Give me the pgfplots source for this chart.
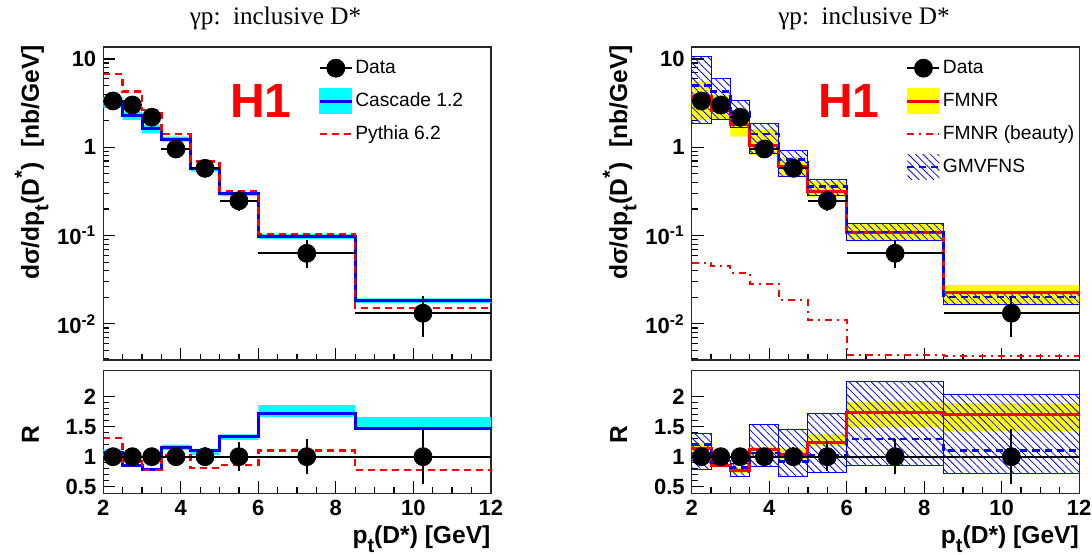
\documentclass[border=0pt]{standalone}
\usepackage{fontspec}
\setmainfont{Liberation Sans}
\newfontfamily\timesfont{Liberation Serif}
\usepackage{pgfplots}
\pgfplotsset{compat=1.18}
\usepackage{pgfplotstable}
\usetikzlibrary{patterns.meta}
\definecolor{hcyan}{RGB}{0,255,255}
\definecolor{hyellow}{RGB}{255,255,0}
\definecolor{hred}{RGB}{255,0,0}
\definecolor{hblue}{RGB}{0,0,255}

\pgfplotstableread{
x y ex ep em
2.25 3.35 0.25 0.25 0.25
2.75 3.01 0.25 0.2 0.2
3.25 2.19 0.25 0.15 0.15
3.875 0.957 0.375 0.07 0.07
4.625 0.578 0.375 0.05 0.05
5.5 0.248 0.5 0.03 0.03
7.25 0.063 1.25 0.0155 0.0143
10.25 0.0132 1.75 0.0052 0.005
}\datatop
\pgfplotstableread{
x y ex ey
2.25 1 0.25 0.05
2.75 1 0.25 0.05
3.25 1 0.25 0.05
3.875 1 0.375 0.06
4.625 1 0.375 0.07
5.5 1 0.5 0.155
7.25 1 1.25 0.21
10.25 1 1.75 0.38
}\dataratio

\newcommand{\labfont}{\fontsize{12.3}{12.3}\selectfont\bfseries}
\newcommand{\subt}{\raisebox{-0.38em}{\fontsize{10}{10}\selectfont\bfseries t}}
\newcommand{\supst}{\raisebox{0.42em}{\fontsize{10}{10}\selectfont\bfseries *}}

\pgfplotsset{
  myHax/.style={scale only axis, width=193.75pt, xmin=2, xmax=12, clip=true,
    axis line style={line width=0.7pt, black!85},
    xtick={2,4,6,8,10,12}, minor x tick num=3,
    xtick pos=lower, ytick pos=left, tick align=inside,
    major tick length=6pt, minor tick length=3pt,
    tick style={black, line width=0.6pt},
    tick label style={font=\fontsize{11}{11}\selectfont\bfseries},
    legend cell align=left,
    /pgf/number format/assume math mode=true},
  myHatch/.style={draw=hblue, line width=0.5pt, pattern={Lines[angle=-45,distance=2.6pt,line width=0.4pt]}, pattern color=hblue, forget plot},
  myDataX/.style={only marks, mark=none, forget plot, error bars/x dir=both, error bars/x explicit, error bars/error mark=none, error bars/error bar style={black, line width=1pt}},
  myDataY/.style={only marks, mark=*, mark size=4.5pt, black, forget plot, error bars/y dir=both, error bars/y explicit, error bars/error bar style={black, line width=1pt}, error bars/error mark options={black, mark size=2.5pt, line width=1pt}},
}

\begin{document}
\begin{tikzpicture}
\useasboundingbox (0pt,0pt) rectangle (546pt,-277.5pt);

% ---------------- left top ----------------
\begin{axis}[ymode=log, myHax, height=156.5pt, ymin=0.0039, ymax=13.68,
    ytick={0.01,0.1,1,10},
    yticklabels={10\textsuperscript{-2},10\textsuperscript{-1},1,10},
    minor ytick={0.004,0.005,0.006,0.007,0.008,0.009,0.02,0.03,0.04,0.05,0.06,0.07,0.08,0.09,0.2,0.3,0.4,0.5,0.6,0.7,0.8,0.9,2,3,4,5,6,7,8,9},
    xticklabels={},
    at={(51.65pt,-180pt)}, anchor=south west,
    legend style={at={(0.555,0.985)}, anchor=north west, draw=none, fill=none, inner sep=0pt, outer sep=0pt, row sep=0pt,
    font=\fontsize{9.6}{9.6}\selectfont, nodes={inner sep=1pt},
    /tikz/every even column/.append style={column sep=3pt}}]
\addplot[fill=hcyan, draw=none, forget plot] coordinates {(2,3.7)(2.5,3.7)(2.5,2.53)(3,2.53)(3,1.79)(3.5,1.79)(3.5,1.32)(4.25,1.32)(4.25,0.6)(5,0.6)(5,0.314)(6,0.314)(6,0.104)(8.5,0.104)(8.5,0.0195)(12,0.0195)
 (12,0.0172)(8.5,0.0172)(8.5,0.092)(6,0.092)(6,0.281)(5,0.281)(5,0.53)(4.25,0.53)(4.25,1.16)(3.5,1.16)(3.5,1.44)(3,1.44)(3,2.04)(2.5,2.04)(2.5,2.8)(2,2.8)} -- cycle;
\addplot[const plot, hblue, line width=1.5pt, forget plot] coordinates {(2,3.28)(2.5,2.32)(3,1.64)(3.5,1.24)(4.25,0.57)(5,0.30)(6,0.097)(8.5,0.0182)(12,0.0182)};
\addplot[const plot, hred, line width=1.2pt, dash pattern=on 3.5pt off 2.5pt, forget plot] coordinates {(2,6.76)(2.5,4.27)(3,2.64)(3.5,1.41)(4.25,0.687)(5,0.32)(6,0.104)(8.5,0.0151)(12,0.0151)};
\addplot[myDataX] table[x=x, y=y, x error=ex] {\datatop};
\addplot[myDataY] table[x=x, y=y, y error plus=ep, y error minus=em] {\datatop};
\addlegendimage{legend image code/.code={\path[draw=none,fill=none] (0pt,-8.25pt) rectangle (16pt,8.25pt); \draw[black,line width=1pt] (0pt,0pt)--(16pt,0pt); \fill[black] (8pt,0pt) circle (4.5pt);}}
\addlegendentry{Data}
\addlegendimage{legend image code/.code={\path[draw=none,fill=none] (0pt,-8.25pt) rectangle (16pt,8.25pt); \fill[hcyan] (0pt,-6.25pt) rectangle (16pt,6.25pt); \draw[hblue,line width=1.5pt] (0pt,0pt)--(16pt,0pt);}}
\addlegendentry{Cascade 1.2}
\addlegendimage{legend image code/.code={\path[draw=none,fill=none] (0pt,-8.25pt) rectangle (16pt,8.25pt); \draw[hred,line width=1.2pt,dash pattern=on 3.5pt off 2.5pt] (0pt,0pt)--(16pt,0pt);}}
\addlegendentry{Pythia 6.2}
\end{axis}

% ---------------- left ratio ----------------
\begin{axis}[myHax, height=61.3pt, ymin=0.39, ymax=2.433,
    ytick={0.5,1,1.5,2}, minor y tick num=4,
    at={(51.65pt,-246.65pt)}, anchor=south west]
\addplot[fill=hcyan, draw=none, forget plot] coordinates {(2,1.12)(2.5,1.12)(2.5,0.87)(3,0.87)(3,0.81)(3.5,0.81)(3.5,1.2)(4.25,1.2)(4.25,1.13)(5,1.13)(5,1.37)(6,1.37)(6,1.86)(8.5,1.86)(8.5,1.66)(12,1.66)
 (12,1.45)(8.5,1.45)(8.5,1.66)(6,1.66)(6,1.28)(5,1.28)(5,1.03)(4.25,1.03)(4.25,1.11)(3.5,1.11)(3.5,0.77)(3,0.77)(3,0.83)(2.5,0.83)(2.5,1.0)(2,1.0)} -- cycle;
\addplot[const plot, hblue, line width=1.5pt, forget plot] coordinates {(2,1.07)(2.5,0.85)(3,0.79)(3.5,1.16)(4.25,1.11)(5,1.33)(6,1.72)(8.5,1.47)(12,1.47)};
\addplot[const plot, hred, line width=1.2pt, dash pattern=on 3.5pt off 2.5pt, forget plot] coordinates {(2,1.31)(2.5,0.92)(3,0.78)(3.5,1.02)(4.25,0.81)(5,0.86)(6,1.10)(8.5,0.78)(12,0.78)};
\addplot[myDataX] table[x=x, y=y, x error=ex] {\dataratio};
\addplot[myDataY] table[x=x, y=y, y error=ey] {\dataratio};
\end{axis}

% ---------------- right top ----------------
\begin{axis}[ymode=log, myHax, height=156.5pt, ymin=0.0039, ymax=13.68,
    ytick={0.01,0.1,1,10},
    yticklabels={10\textsuperscript{-2},10\textsuperscript{-1},1,10},
    minor ytick={0.004,0.005,0.006,0.007,0.008,0.009,0.02,0.03,0.04,0.05,0.06,0.07,0.08,0.09,0.2,0.3,0.4,0.5,0.6,0.7,0.8,0.9,2,3,4,5,6,7,8,9},
    xticklabels={},
    at={(345.85pt,-180pt)}, anchor=south west,
    legend style={at={(0.553,0.985)}, anchor=north west, draw=none, fill=none, inner sep=0pt, outer sep=0pt, row sep=0pt,
    font=\fontsize{9.6}{9.6}\selectfont, nodes={inner sep=1pt},
    /tikz/every even column/.append style={column sep=3pt}}]
\addplot[fill=hyellow, draw=none, forget plot] coordinates {(2,5.5)(2.5,5.5)(2.5,3.9)(3,3.9)(3,2.5)(3.5,2.5)(3.5,1.57)(4.25,1.57)(4.25,0.78)(5,0.78)(5,0.41)(6,0.41)(6,0.135)(8.5,0.135)(8.5,0.0277)(12,0.0277)
 (12,0.0164)(8.5,0.0164)(8.5,0.089)(6,0.089)(6,0.276)(5,0.276)(5,0.465)(4.25,0.465)(4.25,0.82)(3.5,0.82)(3.5,1.32)(3,1.32)(3,2.04)(2.5,2.04)(2.5,2.04)(2,2.04)} -- cycle;
\addplot[myHatch] coordinates {(2,1.87)(2.5,1.87)(2.5,10.8)(2,10.8)} -- cycle;
\addplot[myHatch] coordinates {(2.5,2.04)(3,2.04)(3,6.04)(2.5,6.04)} -- cycle;
\addplot[myHatch] coordinates {(3,1.68)(3.5,1.68)(3.5,3.43)(3,3.43)} -- cycle;
\addplot[myHatch] coordinates {(3.5,0.855)(4.25,0.855)(4.25,1.84)(3.5,1.84)} -- cycle;
\addplot[myHatch] coordinates {(4.25,0.465)(5,0.465)(5,0.93)(4.25,0.93)} -- cycle;
\addplot[myHatch] coordinates {(5,0.288)(6,0.288)(6,0.434)(5,0.434)} -- cycle;
\addplot[myHatch] coordinates {(6,0.087)(8.5,0.087)(8.5,0.137)(6,0.137)} -- cycle;
\addplot[myHatch] coordinates {(8.5,0.0164)(12,0.0164)(12,0.0219)(8.5,0.0219)} -- cycle;
\addplot[const plot, hred, line width=1.5pt, forget plot] coordinates {(2,3.74)(2.5,2.58)(3,1.79)(3.5,1.06)(4.25,0.6)(5,0.314)(6,0.108)(8.5,0.0226)(12,0.0226)};
\addplot[const plot, hblue, line width=1.2pt, dash pattern=on 3.5pt off 2.5pt, forget plot] coordinates {(2,5.0)(2.5,4.3)(3,2.53)(3.5,1.41)(4.25,0.73)(5,0.358)(6,0.11)(8.5,0.0203)(12,0.0203)};
\addplot[const plot, hred, line width=1pt, dash pattern=on 3.5pt off 2.5pt on 1pt off 2.5pt, forget plot] coordinates {(2,0.0487)(2.5,0.045)(3,0.038)(3.5,0.0282)(4.25,0.0186)(5,0.0112)(6,0.0045)(8.5,0.0043)(12,0.0043)};
\addplot[myDataX] table[x=x, y=y, x error=ex] {\datatop};
\addplot[myDataY] table[x=x, y=y, y error plus=ep, y error minus=em] {\datatop};
\addlegendimage{legend image code/.code={\path[draw=none,fill=none] (0pt,-8.25pt) rectangle (16pt,8.25pt); \draw[black,line width=1pt] (0pt,0pt)--(16pt,0pt); \fill[black] (8pt,0pt) circle (4.5pt);}}
\addlegendentry{Data}
\addlegendimage{legend image code/.code={\path[draw=none,fill=none] (0pt,-8.25pt) rectangle (16pt,8.25pt); \fill[hyellow] (0pt,-6.25pt) rectangle (16pt,6.25pt); \draw[hred,line width=1.5pt] (0pt,0pt)--(16pt,0pt);}}
\addlegendentry{FMNR}
\addlegendimage{legend image code/.code={\path[draw=none,fill=none] (0pt,-8.25pt) rectangle (16pt,8.25pt); \draw[hred,line width=1pt,dash pattern=on 3.5pt off 2.5pt on 1pt off 2.5pt] (0pt,0pt)--(16pt,0pt);}}
\addlegendentry{FMNR (beauty)}
\addlegendimage{legend image code/.code={\path[draw=none,fill=none] (0pt,-8.25pt) rectangle (16pt,8.25pt); \path[draw=none, pattern={Lines[angle=-45,distance=2.6pt,line width=0.4pt]}, pattern color=hblue] (0pt,-6.25pt) rectangle (16pt,6.25pt); \draw[hblue,line width=1.2pt,dash pattern=on 3.5pt off 2.5pt] (0pt,0pt)--(16pt,0pt);}}
\addlegendentry{GMVFNS}
\end{axis}

% ---------------- right ratio ----------------
\begin{axis}[myHax, height=61.3pt, ymin=0.39, ymax=2.433,
    ytick={0.5,1,1.5,2}, minor y tick num=4,
    at={(345.85pt,-246.65pt)}, anchor=south west]
\addplot[fill=hyellow, draw=none, forget plot] coordinates {(2,1.22)(2.5,1.22)(2.5,0.9)(3,0.9)(3,0.81)(3.5,0.81)(3.5,1.16)(4.25,1.16)(4.25,1.14)(5,1.14)(5,1.37)(6,1.37)(6,1.91)(8.5,1.91)(8.5,1.89)(12,1.89)
 (12,1.42)(8.5,1.42)(8.5,1.49)(6,1.49)(6,1.18)(5,1.18)(5,0.95)(4.25,0.95)(4.25,1.05)(3.5,1.05)(3.5,0.73)(3,0.73)(3,0.82)(2.5,0.82)(2.5,1.08)(2,1.08)} -- cycle;
\addplot[myHatch] coordinates {(2,0.78)(2.5,0.78)(2.5,1.38)(2,1.38)} -- cycle;
\addplot[myHatch] coordinates {(2.5,0.83)(3,0.83)(3,0.93)(2.5,0.93)} -- cycle;
\addplot[myHatch] coordinates {(3,0.67)(3.5,0.67)(3.5,0.89)(3,0.89)} -- cycle;
\addplot[myHatch] coordinates {(3.5,0.83)(4.25,0.83)(4.25,1.53)(3.5,1.53)} -- cycle;
\addplot[myHatch] coordinates {(4.25,0.67)(5,0.67)(5,1.46)(4.25,1.46)} -- cycle;
\addplot[myHatch] coordinates {(5,0.73)(6,0.73)(6,1.72)(5,1.72)} -- cycle;
\addplot[myHatch] coordinates {(6,0.86)(8.5,0.86)(8.5,2.25)(6,2.25)} -- cycle;
\addplot[myHatch] coordinates {(8.5,0.72)(12,0.72)(12,2.03)(8.5,2.03)} -- cycle;
\addplot[const plot, hred, line width=1.5pt, forget plot] coordinates {(2,1.14)(2.5,0.85)(3,0.77)(3.5,1.12)(4.25,1.03)(5,1.23)(6,1.74)(8.5,1.70)(12,1.70)};
\addplot[const plot, hblue, line width=1.2pt, dash pattern=on 3.5pt off 2.5pt, forget plot] coordinates {(2,1.2)(2.5,0.89)(3,0.82)(3.5,1.06)(4.25,0.92)(5,1.03)(6,1.29)(8.5,1.10)(12,1.10)};
\addplot[myDataX] table[x=x, y=y, x error=ex] {\dataratio};
\addplot[myDataY] table[x=x, y=y, y error=ey] {\dataratio};
\end{axis}

% ---------------- texts ----------------
\node[anchor=base, font=\timesfont\fontsize{12.6}{13}\selectfont] at (137.75pt,-12.5pt) {γp:\ \ inclusive D*};
\node[anchor=base, font=\timesfont\fontsize{12.6}{13}\selectfont] at (432pt,-12.5pt) {γp:\ \ inclusive D*};
\node[text=hred, font=\fontsize{24}{24}\selectfont\bfseries] at (130.5pt,-50.25pt) {H1};
\node[text=hred, font=\fontsize{24}{24}\selectfont\bfseries] at (424.5pt,-50.25pt) {H1};
\node[rotate=90, anchor=base east, inner sep=0pt, font=\labfont] at (19.5pt,-22.5pt) {dσ/dp\subt(D\supst)\hspace{0.6em}[nb/GeV]};
\node[rotate=90, anchor=base east, inner sep=0pt, font=\labfont] at (313.5pt,-22.5pt) {dσ/dp\subt(D\supst)\hspace{0.6em}[nb/GeV]};
\node[rotate=90, anchor=base, inner sep=0pt, font=\labfont] at (19.5pt,-217.5pt) {R};
\node[rotate=90, anchor=base, inner sep=0pt, font=\labfont] at (313.5pt,-217.5pt) {R};
\node[anchor=base east, inner sep=0pt, font=\labfont] at (245.4pt,-271.5pt) {p\subt(D*) [GeV]};
\node[anchor=base east, inner sep=0pt, font=\labfont] at (539.6pt,-271.5pt) {p\subt(D*) [GeV]};
\end{tikzpicture}
\end{document}
